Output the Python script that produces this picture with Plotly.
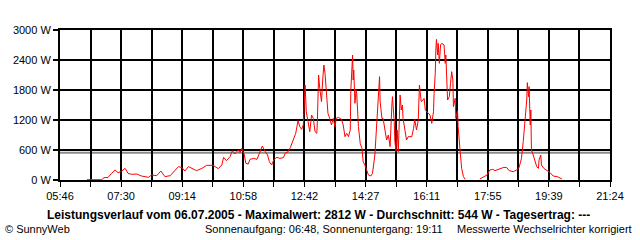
import plotly.graph_objects as go

# time in minutes since midnight, power in W
minutes = [392, 417, 421, 428, 434, 440, 445, 450, 457, 462, 468, 477, 485, 497, 502, 511, 518, 525, 534,
           539, 548, 554, 559, 565, 571, 579, 588, 596, 607, 616, 622, 625, 630, 636, 640, 644, 650, 653, 656,
           660, 663, 667, 670, 676, 682, 687, 691, 696, 700, 703, 707, 711, 716, 721,
           727, 730, 735, 739, 744, 748, 752, 755, 758, 761, 764, 766, 769, 772, 775, 778, 781, 784, 785,
           787, 789, 792, 794, 796, 798, 801, 803, 806, 809, 812, 815, 817, 821, 826, 829, 832, 835, 838,
           841, 842, 845, 846, 847, 849, 851, 852, 855, 858, 861, 863, 866, 869, 872, 876, 879, 883, 886,
           889, 891, 892, 895, 897, 900, 903, 906, 909, 912, 913, 916, 917, 919, 921, 923, 925, 926, 928,
           930, 931, 934, 937, 940, 946, 949, 951, 954, 957, 959,
           962, 965, 967, 969, 972, 977, 980, 983, 984, 986, 987, 988, 990, 991, 993, 995, 997, 1001, 1003,
           1004, 1007, 1010, 1012, 1014, 1016, 1017, 1020, 1021, 1024, 1025, 1028, 1031, 1034, 1037,
           1049,
           1062, 1068, 1074, 1079, 1084, 1088, 1094, 1099, 1103, 1108, 1112, 1119, 1125, 1129, 1133, 1136,
           1139, 1142, 1143, 1145, 1146, 1148, 1149, 1150, 1153, 1156, 1159, 1162, 1163, 1166, 1167, 1171,
           1176, 1182, 1187, 1194, 1202]
power = [6, 6, 46, 53, 133, 200, 147, 167, 233, 133, 113, 120, 80, 53, 100, 87, 180, 67, 87,
         147, 267, 247, 180, 267, 233, 187, 233, 293, 293, 227, 300, 453, 387, 467, 587, 520, 600, 547, 633,
         520, 333, 320, 413, 433, 413, 547, 680, 567, 500, 367, 300, 413, 453, 433,
         447, 533, 567, 653, 800, 933, 1187, 1067, 1013, 1100, 1900, 1367, 1167, 967, 1300, 1233, 967, 933, 1200,
         2100, 1833, 1567, 2000, 2300, 2133, 1733, 1333, 1233, 1100, 1233, 1067, 1233, 1253, 1213, 1100, 867, 933, 867,
         1000, 1800, 2500, 2000, 2200, 1533, 1800, 1733, 1067, 733, 633, 367, 300, 200, 100, 80, 133, 500, 1067,
         1733, 2067, 1567, 1233, 1233, 967, 800, 900, 667, 1500, 1667, 1167, 800, 567, 1000, 567, 1367, 1700, 1400,
         1500, 1233, 1000, 800, 867, 867, 1033, 1213, 1000, 1200, 1900,
         1567, 1600, 1633, 1400, 1367, 1300, 1133, 1367, 1733, 2133, 2600, 2812, 2500, 2733, 2333, 2700, 2733, 2700, 2333,
         2500, 1600, 1667, 1933, 2167, 2000, 1467, 1633, 1233, 1383, 1067, 633, 233, 67, 13,
         None,
         20, 53, 100, 200, 213, 187, 213, 233, 253, 247, 187, 167, 200, 253, 433, 767,
         1200, 1600, 1947, 1667, 1867, 1100, 1400, 600, 500, 400, 267, 233, 400, 500, 300, 233,
         200, 147, 80, 67, 20]

average_w = 544
x_start, x_end = 346, 1284
tick_labels = ["05:46", "07:30", "09:14", "10:58", "12:42", "14:27", "16:11", "17:55", "19:39", "21:24"]
y_ticks = [0, 600, 1200, 1800, 2400, 3000]

n_int = 18
step = (x_end - x_start) / n_int
tickvals = [x_start + i * step for i in range(n_int + 1)]
ticktext = [tick_labels[i // 2] if i % 2 == 0 else "" for i in range(n_int + 1)]

FONT = "Liberation Sans, Arial, sans-serif"

fig = go.Figure()
fig.add_trace(go.Scatter(x=minutes, y=power, mode="lines",
                         line=dict(color="#ff0000", width=1), connectgaps=False,
                         hoverinfo="skip"))
fig.add_shape(type="line", xref="paper", x0=0, x1=1, yref="y", y0=average_w, y1=average_w,
              line=dict(color="#8c8c8c", width=2), layer="below")

fig.update_layout(
    width=640, height=240,
    margin=dict(l=60, r=30, t=30, b=60),
    paper_bgcolor="white", plot_bgcolor="white",
    showlegend=False,
    font=dict(family=FONT, size=11, color="black"),
    xaxis=dict(range=[x_start, x_end], tickvals=tickvals, ticktext=ticktext,
               showgrid=True, gridcolor="black", gridwidth=2,
               showline=True, linecolor="black", linewidth=2, mirror=True,
               ticks="outside", ticklen=5, tickwidth=1, tickcolor="black",
               zeroline=False, tickfont=dict(size=11)),
    yaxis=dict(range=[0, 3000], tickvals=y_ticks, ticktext=[f"{v} W" for v in y_ticks],
               showgrid=True, gridcolor="black", gridwidth=2,
               showline=True, linecolor="black", linewidth=2, mirror=True,
               ticks="outside", ticklen=5, tickwidth=2, tickcolor="black",
               zeroline=False, tickfont=dict(size=11)),
)

def px_x(px):
    return (px - 60) / 550

def px_y(py):
    return (180 - py) / 150

fig.add_annotation(text="<b>Leistungsverlauf vom 06.07.2005 - Maximalwert: 2812 W - Durchschnitt: 544 W - Tagesertrag: ---</b>",
                   xref="paper", yref="paper", x=px_x(318), y=px_y(215), xanchor="center", yanchor="middle",
                   showarrow=False, font=dict(size=12))
fig.add_annotation(text="© SunnyWeb", xref="paper", yref="paper", x=px_x(3), y=px_y(229),
                   xanchor="left", yanchor="middle", showarrow=False, font=dict(size=11))
fig.add_annotation(text="Sonnenaufgang: 06:48, Sonnenuntergang: 19:11", xref="paper", yref="paper",
                   x=px_x(203), y=px_y(229), xanchor="left", yanchor="middle", showarrow=False, font=dict(size=11))
fig.add_annotation(text="Messwerte Wechselrichter korrigiert", xref="paper", yref="paper",
                   x=px_x(634), y=px_y(229), xanchor="right", yanchor="middle", showarrow=False, font=dict(size=11))

fig.write_html("out.html")
